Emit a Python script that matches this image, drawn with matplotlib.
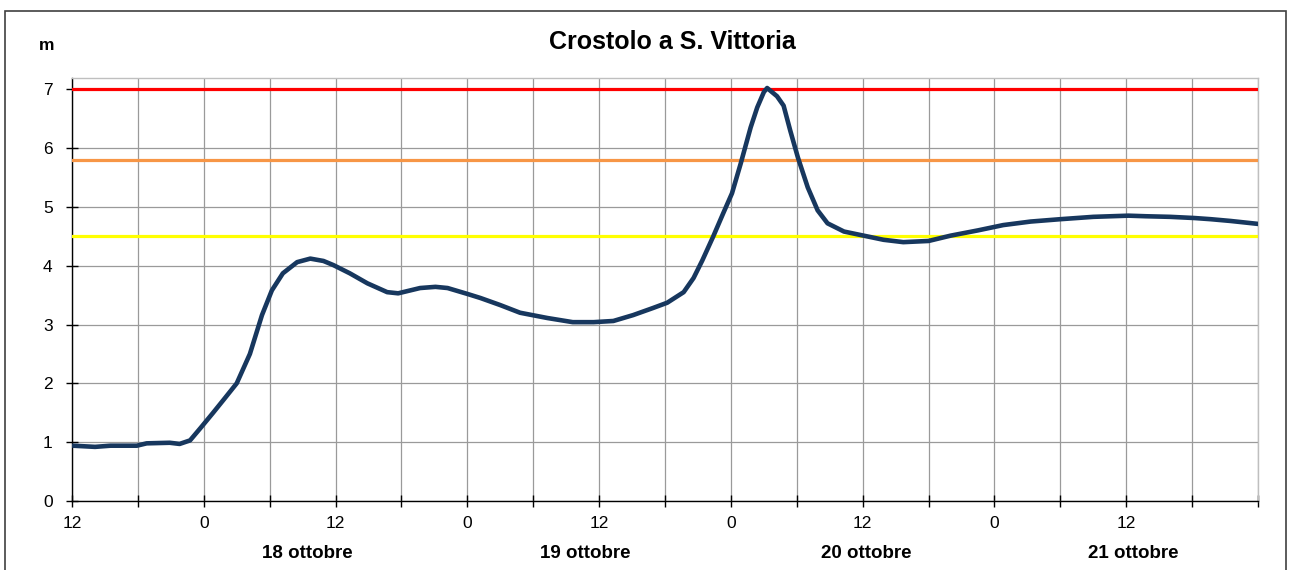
import matplotlib
matplotlib.use('Agg')
import matplotlib.pyplot as plt
from matplotlib.patches import Rectangle
from matplotlib.transforms import blended_transform_factory

plt.rcParams['font.family'] = ['Liberation Sans', 'DejaVu Sans']

# hours from 17 ottobre 12:00
ore = [0.1, 2.1, 3.5, 5.9, 6.8, 8.9, 9.8, 10.75, 11.7, 12.85, 13.8, 15.0, 16.2,
       17.3, 18.2, 19.2, 20.5, 21.7, 22.9, 23.8, 25.3, 26.9, 28.7, 29.7, 31.7,
       33.1, 34.2, 36.0, 37.2, 39.0, 40.8, 43.3, 45.6, 47.5, 49.3, 51.1, 52.9,
       54.2, 55.7, 56.6, 57.4, 58.4, 59.3, 60.1, 60.9, 61.8, 62.4, 63.0, 63.3,
       64.2, 64.8, 65.4, 66.1, 67.0, 67.9, 68.8, 70.3, 72.1, 73.9, 75.7, 78.0,
       80.0, 82.5, 84.8, 87.3, 90.0, 93.0, 96.2, 97.8, 100.0, 102.2, 103.7,
       105.5, 108.0]
livello = [0.94, 0.92, 0.94, 0.94, 0.98, 0.99, 0.97, 1.03, 1.24, 1.5, 1.72, 2.0,
           2.5, 3.16, 3.58, 3.87, 4.06, 4.12, 4.08, 4.01, 3.87, 3.7, 3.55, 3.53,
           3.62, 3.64, 3.62, 3.52, 3.45, 3.33, 3.2, 3.11, 3.04, 3.04, 3.06, 3.16,
           3.28, 3.37, 3.55, 3.79, 4.09, 4.5, 4.89, 5.23, 5.74, 6.35, 6.69, 6.95,
           7.02, 6.88, 6.72, 6.3, 5.84, 5.33, 4.94, 4.72, 4.58, 4.51, 4.44, 4.4,
           4.42, 4.51, 4.6, 4.69, 4.75, 4.79, 4.83, 4.85, 4.84, 4.83, 4.81, 4.79,
           4.76, 4.71]

soglie = [7.0, 5.8, 4.5]
colori_soglie = ['#ff0000', '#f79646', '#ffff00']

giorni = ['18 ottobre', '19 ottobre', '20 ottobre', '21 ottobre']
pos_giorni = [21.4, 46.7, 72.3, 96.6]

fig = plt.figure(figsize=(12.9, 5.7), dpi=100)
ax = fig.add_axes([72/1290, 1-501/570, (1258-72)/1290, (501-78)/570])

# figure border
fig.patches.append(Rectangle((4.5/1290, -0.1), 1281/1290, 1.1 - 11.5/570,
                             transform=fig.transFigure, fill=False,
                             edgecolor='#404040', lw=1.2))

for s, c in zip(soglie, colori_soglie):
    ax.axhline(s, color=c, lw=2.3, zorder=3)

ax.plot(ore, livello, color='#17375e', lw=3.3, zorder=4,
        solid_capstyle='round', solid_joinstyle='round')

ax.set_xlim(0, 108)
ax.set_ylim(0, 7.19)
xt = list(range(0, 109, 6))
ax.set_xticks(xt)
ax.set_xticklabels([str((12 + h) % 24) if h % 12 == 0 and h <= 96 else '' for h in xt])
ax.set_yticks(range(0, 8))
ax.grid(True, color='#9a9a9a', lw=0.9, zorder=1)
ax.set_axisbelow(True)

ax.tick_params(axis='both', direction='inout', length=8, width=1,
               colors='#000000', labelsize=12.5)
ax.tick_params(axis='x', pad=7)
ax.tick_params(axis='y', pad=10)
for sp in ['left', 'bottom']:
    ax.spines[sp].set_color('#000000')
    ax.spines[sp].set_linewidth(1)
for sp in ['top', 'right']:
    ax.spines[sp].set_color('#bfbfbf')
    ax.spines[sp].set_linewidth(1)

trans = blended_transform_factory(ax.transData, fig.transFigure)
for g, p in zip(giorni, pos_giorni):
    ax.text(p, 1 - 553/570, g, transform=trans, ha='center', va='center',
            fontsize=13.5, fontweight='bold')

fig.text(672/1290, 1 - 42/570, 'Crostolo a S. Vittoria', ha='center',
         va='center', fontsize=18, fontweight='bold')
fig.text(47/1290, 1 - 46/570, 'm', ha='center', va='center',
         fontsize=12.5, fontweight='bold')

fig.savefig('out.png', dpi=100)
